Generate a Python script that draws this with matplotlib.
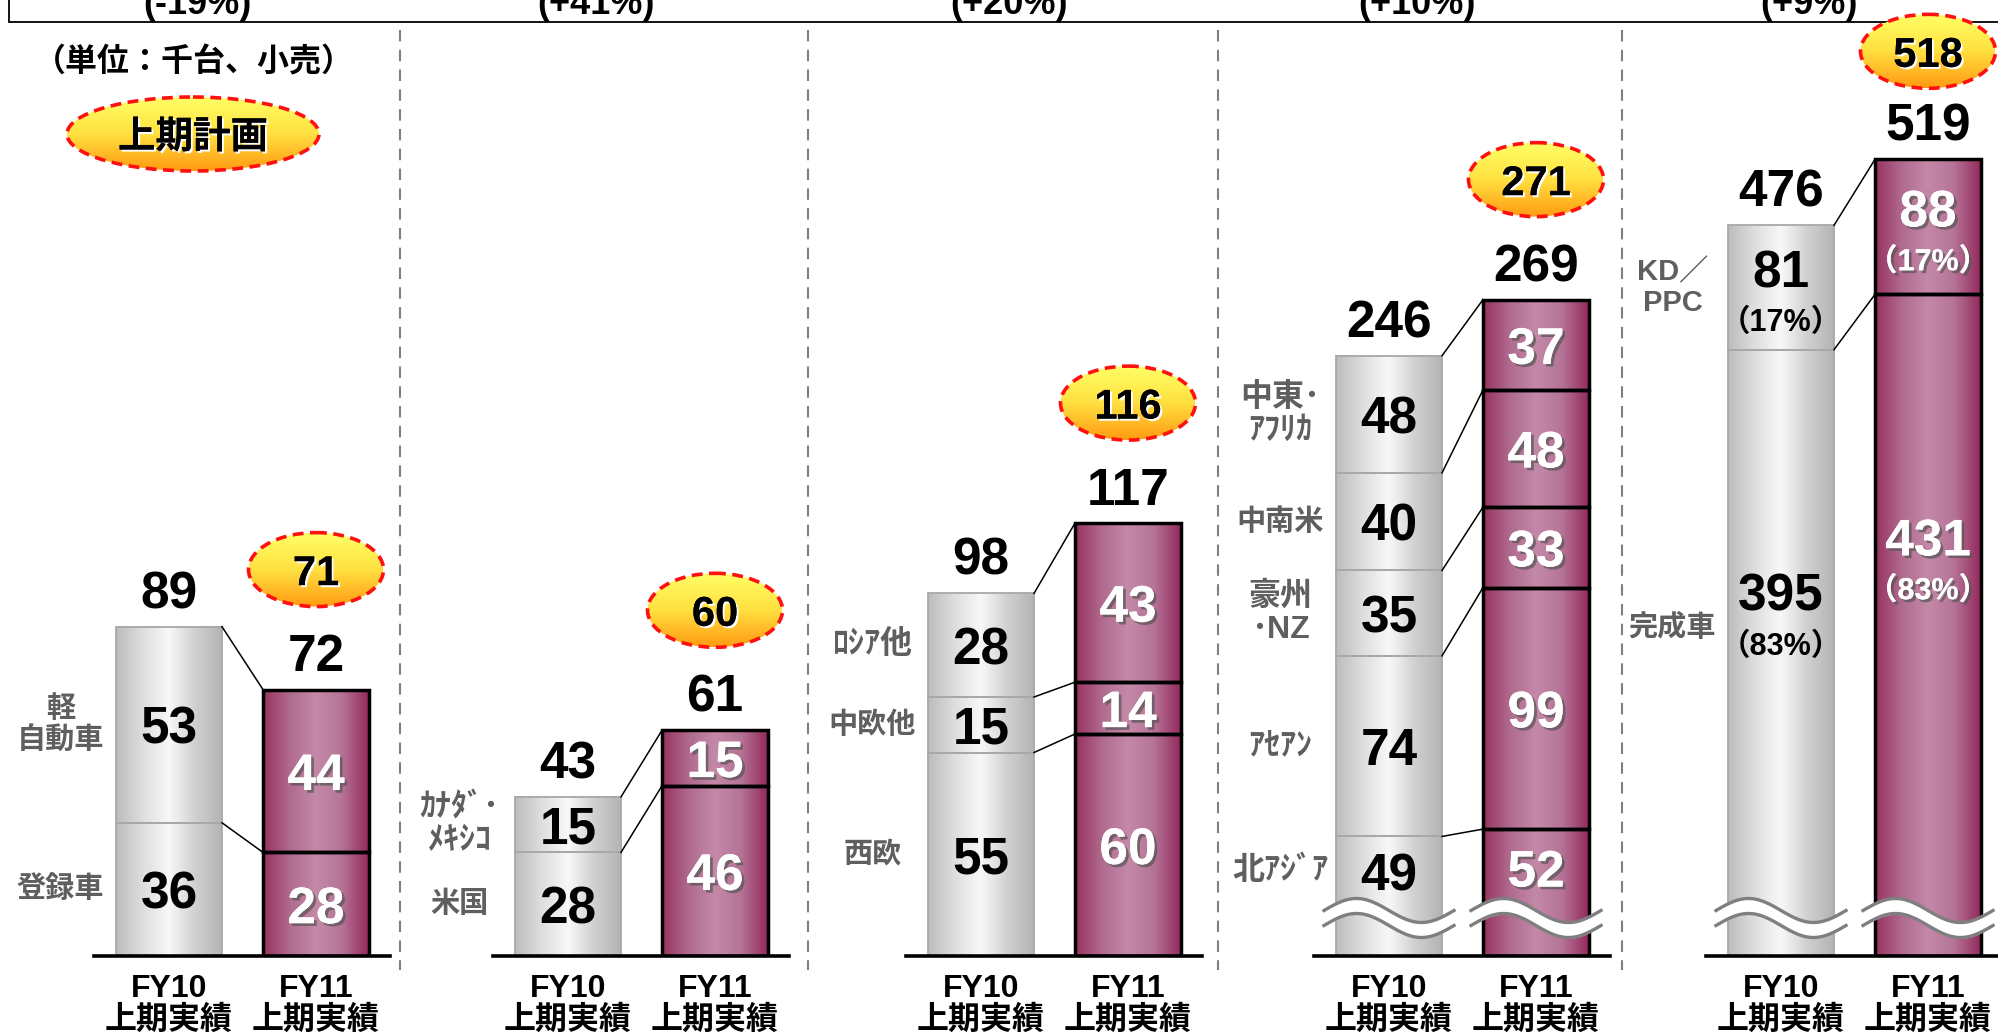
import numpy as np
import matplotlib
matplotlib.use('Agg')
import matplotlib.pyplot as plt
from matplotlib.patches import Ellipse, Rectangle
from matplotlib.colors import LinearSegmentedColormap
import matplotlib.patheffects as pe

plt.rcParams['font.family'] = ['Liberation Sans', 'Noto Sans CJK JP']

# data (千台, 小売) -- segments listed bottom to top
seg_names = [
    ['登録車', '軽\n自動車'],
    ['米国', 'ｶﾅﾀﾞ･\nﾒｷｼｺ'],
    ['西欧', '中欧他', 'ﾛｼｱ他'],
    ['北ｱｼﾞｱ', 'ｱｾｱﾝ', '豪州\n･NZ', '中南米', '中東･\nｱﾌﾘｶ'],
    ['完成車', 'KD／\nPPC'],
]
fy10 = [[36, 53], [28, 15], [55, 15, 28], [49, 74, 35, 40, 48], [395, 81]]
fy11 = [[28, 44], [46, 15], [60, 14, 43], [52, 99, 33, 48, 37], [431, 88]]
tot10 = [89, 43, 98, 246, 476]
tot11 = [72, 61, 117, 269, 519]
plan = [71, 60, 116, 271, 518]
growth = ['(-19%)', '(+41%)', '(+20%)', '(+10%)', '(+9%)']
share10 = ['（83%）', '（17%）']
share11 = ['（83%）', '（17%）']
xlabels = ['FY10\n上期実績', 'FY11\n上期実績']

# layout (pixels of the 1999x1035 canvas)
W, H = 1999, 1035
base_px, top_px = 956, 30
px_per_unit = [3.70, 3.70, 3.70, 2.44, 1.535]
group_left = [94, 493, 906, 1314, 1706]
group_w = 296
step = 147.0
bw = 106 / step
broken = [False, False, False, True, True]
sep_x = [400, 808, 1218, 1622]
badge_off = [120, 120, 120, 120, 108]
lift_g5 = [12, 32]   # points, extra lift of the big bottom labels in the last group

gray_cm = LinearSegmentedColormap.from_list('g', ['#bcbcbc', '#dedede', '#f8f8f8', '#d0d0d0', '#b4b4b4'])
red_cm = LinearSegmentedColormap.from_list('r', ['#98325f', '#b06a8e', '#c489a8', '#b57396', '#93295b'])
yel_cm = LinearSegmentedColormap.from_list('y', ['#ffff66', '#ffe040', '#ff9a12'])
hgrad = np.linspace(0, 1, 256).reshape(1, -1)
vgrad = np.linspace(0, 1, 256).reshape(-1, 1)

label_gray = '#5f5f5f'
white_fx = [pe.withSimplePatchShadow(offset=(2, -2), shadow_rgbFace='#555555', alpha=0.7), pe.Normal()]
black_fx = [pe.withSimplePatchShadow(offset=(1.5, -1.5), shadow_rgbFace='white', alpha=1.0), pe.Normal()]

fig = plt.figure(figsize=(W / 100, H / 100), dpi=100)

ov = fig.add_axes([0, 0, 1, 1], zorder=5)
ov.patch.set_alpha(0)
ov.axis('off')
ov.set_xlim(0, W)
ov.set_ylim(H, 0)


def to_ov(ax, x, y):
    return ov.transData.inverted().transform(ax.transData.transform((x, y)))


def badge(cx, cy, w, h, text, size):
    el = Ellipse((cx, cy), w, h, transform=ov.transData)
    im = ov.imshow(vgrad, cmap=yel_cm, extent=(cx - w / 2, cx + w / 2, cy + h / 2, cy - h / 2),
                   aspect='auto', zorder=6)
    im.set_clip_path(el)
    ov.add_patch(Ellipse((cx, cy), w, h, fill=False, edgecolor='#ff1010', lw=2.6,
                         linestyle=(0, (3, 1.8)), zorder=7))
    ov.text(cx, cy, text, ha='center', va='center_baseline', fontsize=size, fontweight='bold',
            color='black', path_effects=black_fx, zorder=8)


def has_halfwidth(s):
    return any('\uff61' <= ch <= '\uff9f' for ch in s)


axes = []
for g in range(5):
    ax = fig.add_axes([group_left[g] / W, (H - base_px) / H, group_w / W, (base_px - top_px) / H])
    axes.append(ax)
    ax.patch.set_alpha(0)
    for s in ['top', 'left', 'right']:
        ax.spines[s].set_visible(False)
    ax.spines['bottom'].set_linewidth(2.6)
    ax.spines['bottom'].set_zorder(5)
    ax.set_yticks([])
    ax.set_xticks([0, 1])
    ax.set_xticklabels(xlabels, fontsize=23, fontweight='bold', linespacing=1.05)
    ax.tick_params(axis='x', length=0, pad=13)

    ymax = (base_px - top_px) / px_per_unit[g]
    brk = 50 / px_per_unit[g]

    for xi, vals, tot, edge, lw, cm in [(0, fy10[g], tot10[g], '#a8a8a8', 1.3, gray_cm),
                                         (1, fy11[g], tot11[g], 'black', 2.5, red_cm)]:
        cum = np.concatenate([[0], np.cumsum(vals)])
        bars = ax.bar([xi] * len(vals), vals, bw, bottom=cum[:-1], facecolor='none',
                      edgecolor=edge, linewidth=lw, zorder=3)
        p0 = bars[0]
        ax.imshow(hgrad, cmap=cm, extent=(p0.get_x(), p0.get_x() + p0.get_width(), 0, cum[-1]),
                  aspect='auto', zorder=2)
        for k, v in enumerate(vals):
            lo = brk if (broken[g] and k == 0) else cum[k]
            mid = (lo + cum[k + 1]) / 2
            col = 'black' if xi == 0 else 'white'
            fx = None if xi == 0 else white_fx
            if g == 4:
                lift = lift_g5[xi] if k == 0 else 0
                ax.annotate(str(v), (xi, mid), xytext=(0, 14 + lift), textcoords='offset points',
                            ha='center', va='center_baseline', fontsize=37, fontweight='bold',
                            color=col, path_effects=fx, zorder=6)
                sh = share10[k] if xi == 0 else share11[k]
                ax.annotate(sh, (xi, mid), xytext=(0, -23 + lift), textcoords='offset points',
                            ha='center', va='center_baseline', fontsize=22, fontweight='bold',
                            color=col, path_effects=fx, zorder=6)
            else:
                ax.annotate(str(v), (xi, mid), xytext=(0, 0), textcoords='offset points',
                            ha='center', va='center_baseline', fontsize=37, fontweight='bold',
                            color=col, path_effects=fx, zorder=6)
            if xi == 0:
                name = seg_names[g][k]
                ax.annotate(name, (-bw / 2, mid), xytext=(-40, 0), textcoords='offset points',
                            ha='center', va='center', multialignment='center',
                            fontsize=23 if has_halfwidth(name) else 21,
                            fontweight='bold', color=label_gray, linespacing=1.15)
        ax.annotate(str(tot), (xi, tot), xytext=(0, 27), textcoords='offset points',
                    ha='center', va='center_baseline', fontsize=37, fontweight='bold', zorder=6)

    c10 = np.cumsum(fy10[g])
    c11 = np.cumsum(fy11[g])
    for a, b in zip(c10, c11):
        ax.plot([bw / 2, 1 - bw / 2], [a, b], color='black', lw=1.1, zorder=4)

    ax.set_xlim(-75 / step, 221 / step)
    ax.set_ylim(0, ymax)

# overlay decorations
ov.add_patch(Rectangle((9, -80), 2100, 102, fill=False, edgecolor='black', lw=1.3))
for g in range(5):
    ov.text(group_left[g] + group_w / 2 - 45, 14, growth[g], ha='center', va='baseline',
            fontsize=26, fontweight='bold')
for x in sep_x:
    ov.plot([x, x], [30, 970], color='#7f7f7f', lw=1.5, linestyle=(0, (5.5, 4)))

ov.text(194, 63, '（単位：千台、小売）', ha='center', va='center', fontsize=23, fontweight='bold')
badge(193, 134, 252, 74, '上期計画', 27)

for g, ax in enumerate(axes):
    cx, cy = to_ov(ax, 1, tot11[g])
    badge(cx, cy - badge_off[g], 135, 74, str(plan[g]), 30)
    if broken[g]:
        for xi in [0, 1]:
            xl, yb = to_ov(ax, xi - bw / 2, 0)
            xr, _ = to_ov(ax, xi + bw / 2, 0)
            t = np.linspace(0, 1, 120)
            xs = xl - 12 + t * (xr - xl + 24)
            cyw = yb - 38
            yu = cyw - 7.5 - 12 * np.sin(2 * np.pi * t)
            yl = cyw + 7.5 - 12 * np.sin(2 * np.pi * t)
            ov.fill_between(xs, yu, yl, color='white', zorder=3)
            ov.plot(xs, yu, color='#7f7f7f', lw=2.4, zorder=4)
            ov.plot(xs, yl, color='#7f7f7f', lw=2.4, zorder=4)

ov.set_xlim(0, W)
ov.set_ylim(H, 0)

fig.savefig('out.png', dpi=100)
